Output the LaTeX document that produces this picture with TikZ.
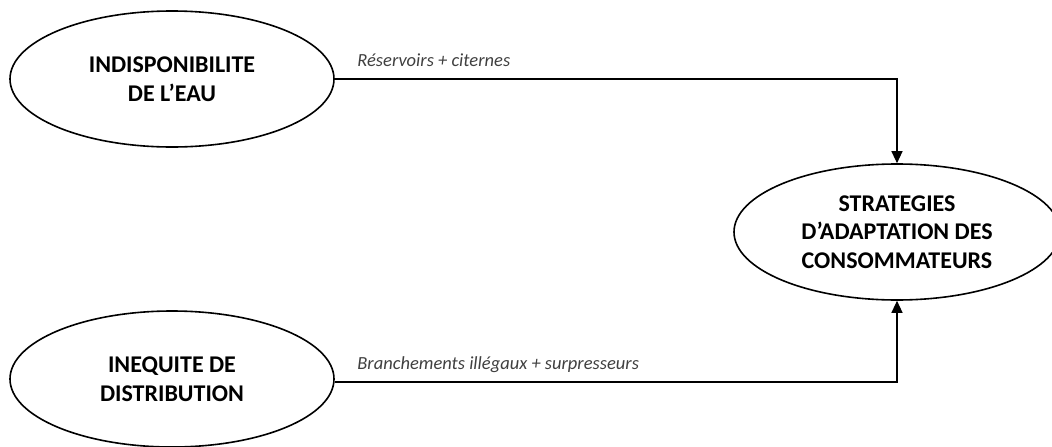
\documentclass[tikz,border=0pt]{standalone}
\usepackage{fontspec}
\setmainfont{Carlito}
\usetikzlibrary{shapes.geometric,arrows.meta}
\tikzset{
  cause/.style={ellipse, draw, line width=1.6pt, inner sep=0pt,
    minimum width=324pt, minimum height=136pt, align=center,
    font=\fontsize{24}{28.5}\selectfont\bfseries},
  lien/.style={line width=1.2pt, -{Triangle[length=12pt,width=11pt]}},
  moyen/.style={font=\fontsize{18.5}{22}\selectfont\itshape, text=black!75,
    inner sep=0pt, anchor=base west, xshift=22pt, yshift=13pt}
}
\begin{document}
\begin{tikzpicture}[x=1pt, y=-1pt]
\useasboundingbox[fill=white] (0,0) rectangle (1052,447);
\node[cause] (eau) at (172,79) {INDISPONIBILITE\\DE L'EAU};
\node[cause] (inequite) at (172,379) {INEQUITE DE\\DISTRIBUTION};
\node[cause, minimum width=326pt] (strat) at (897,232) {STRATEGIES\\D'ADAPTATION DES\\CONSOMMATEURS};
\draw[lien] (eau.east) -| node[moyen, pos=0] {Réservoirs + citernes} (strat.north);
\draw[lien] ([yshift=-3pt]inequite.east) -| node[moyen, pos=0] {Branchements illégaux + surpresseurs} (strat.south);
\end{tikzpicture}
\end{document}
